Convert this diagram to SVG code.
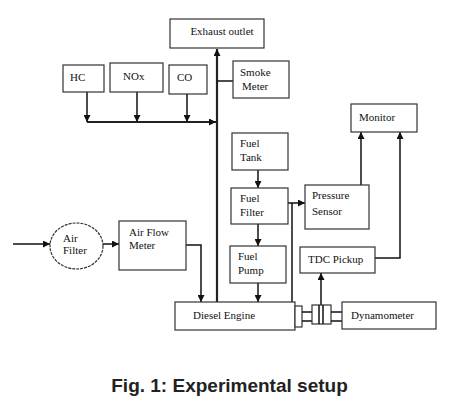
<svg xmlns="http://www.w3.org/2000/svg" width="452" height="410" viewBox="0 0 452 410">
<style>
.box{fill:#fff;stroke:#333;stroke-width:1.2}
.t{font-family:"Liberation Serif","Times New Roman",serif;font-size:11px;fill:#111}
.ln{fill:none;stroke:#111;stroke-width:1.5}
.thick{fill:none;stroke:#222;stroke-width:2.2}
.cap{font-family:"Liberation Sans",Arial,sans-serif;font-size:19px;font-weight:bold;fill:#222}
</style>
<defs>
<marker id="ah" viewBox="0 0 10 10" refX="10" refY="5" markerWidth="7" markerHeight="7" orient="auto" markerUnits="userSpaceOnUse"><path d="M0,0 L10,5 L0,10 z" fill="#111"/></marker>
</defs>
<rect width="452" height="410" fill="#fff"/>
<g id="connectors">
<line class="thick" x1="217" y1="302" x2="217" y2="49" marker-end="url(#ah)"/>
<line class="ln" x1="217" y1="81" x2="233" y2="81"/>
<line class="thick" x1="87" y1="122" x2="216" y2="122" marker-end="url(#ah)"/>
<line class="ln" x1="87" y1="92" x2="87" y2="122" marker-end="url(#ah)"/>
<line class="ln" x1="137" y1="92" x2="137" y2="122" marker-end="url(#ah)"/>
<line class="ln" x1="187" y1="94" x2="187" y2="122" marker-end="url(#ah)"/>
<line class="ln" x1="13" y1="244" x2="50" y2="244" marker-end="url(#ah)"/>
<line class="ln" x1="103" y1="244" x2="119" y2="244" marker-end="url(#ah)"/>
<polyline class="ln" points="186,245 201,245 201,302" marker-end="url(#ah)"/>
<line class="ln" x1="258" y1="170" x2="258" y2="188" marker-end="url(#ah)"/>
<line class="ln" x1="258" y1="224" x2="258" y2="246" marker-end="url(#ah)"/>
<line class="ln" x1="258" y1="283" x2="258" y2="302" marker-end="url(#ah)"/>
<line class="ln" x1="292" y1="302" x2="292" y2="203"/>
<line class="ln" x1="288" y1="203" x2="305" y2="203" marker-end="url(#ah)"/>
<line class="ln" x1="361" y1="185" x2="361" y2="132" marker-end="url(#ah)"/>
<polyline class="ln" points="375,258 400,258 400,132" marker-end="url(#ah)"/>
<line class="ln" x1="321" y1="305" x2="321" y2="273" marker-end="url(#ah)"/>
</g>
<g id="exhaust"><rect class="box" x="170" y="19" width="94" height="29"/><text class="t" x="222" y="35" text-anchor="middle">Exhaust outlet</text></g>
<g id="hc"><rect class="box" x="63" y="65" width="41" height="27"/><text class="t" x="70" y="81">HC</text></g>
<g id="nox"><rect class="box" x="110" y="63" width="53" height="29"/><text class="t" x="123" y="80">NOx</text></g>
<g id="co"><rect class="box" x="169" y="65" width="38" height="29"/><text class="t" x="177" y="81">CO</text></g>
<g id="smoke"><rect class="box" x="233" y="61" width="56" height="37"/><text class="t" x="240" y="76">Smoke</text><text class="t" x="242" y="90">Meter</text></g>
<g id="monitor"><rect class="box" x="351" y="104" width="66" height="28"/><text class="t" x="359" y="121">Monitor</text></g>
<g id="airfilter"><ellipse cx="76.5" cy="246" rx="26.5" ry="23" fill="#fff" stroke="#333" stroke-width="1.2" stroke-dasharray="3 1"/><text class="t" x="63" y="242">Air</text><text class="t" x="63" y="254">Filter</text></g>
<g id="airflow"><rect class="box" x="119" y="221" width="67" height="49"/><text class="t" x="129" y="236">Air Flow</text><text class="t" x="129" y="249">Meter</text></g>
<g id="fueltank"><rect class="box" x="232" y="133" width="56" height="37"/><text class="t" x="240" y="147">Fuel</text><text class="t" x="240" y="161">Tank</text></g>
<g id="fuelfilter"><rect class="box" x="231" y="188" width="57" height="36"/><text class="t" x="240" y="202">Fuel</text><text class="t" x="240" y="216">Filter</text></g>
<g id="fuelpump"><rect class="box" x="230" y="246" width="56" height="37"/><text class="t" x="238" y="260">Fuel</text><text class="t" x="238" y="274">Pump</text></g>
<g id="pressure"><rect class="box" x="305" y="185" width="64" height="44"/><text class="t" x="312" y="199">Pressure</text><text class="t" x="312" y="215">Sensor</text></g>
<g id="tdc"><rect class="box" x="300" y="247" width="75" height="26"/><text class="t" x="308" y="263">TDC Pickup</text></g>
<g id="engine"><rect class="box" x="175" y="302" width="120" height="28"/><text class="t" x="193" y="319">Diesel Engine</text></g>
<g id="coupling">
<rect class="box" x="295" y="306" width="7" height="21"/>
<line class="ln" x1="302" y1="312" x2="312" y2="312" stroke-width="1.2"/>
<line class="ln" x1="302" y1="321" x2="312" y2="321" stroke-width="1.2"/>
<rect class="box" x="312" y="305" width="19" height="19"/>
<line class="ln" x1="319" y1="305" x2="319" y2="324" stroke-width="1"/>
<line class="ln" x1="323" y1="305" x2="323" y2="324" stroke-width="1"/>
<line class="ln" x1="331" y1="312" x2="342" y2="312" stroke-width="1.2"/>
<line class="ln" x1="331" y1="321" x2="342" y2="321" stroke-width="1.2"/>
</g>
<g id="dyno"><rect class="box" x="342" y="302" width="94" height="27"/><text class="t" x="351" y="319">Dynamometer</text></g>
<text class="cap" x="229.5" y="392" text-anchor="middle">Fig. 1: Experimental setup</text>
</svg>
